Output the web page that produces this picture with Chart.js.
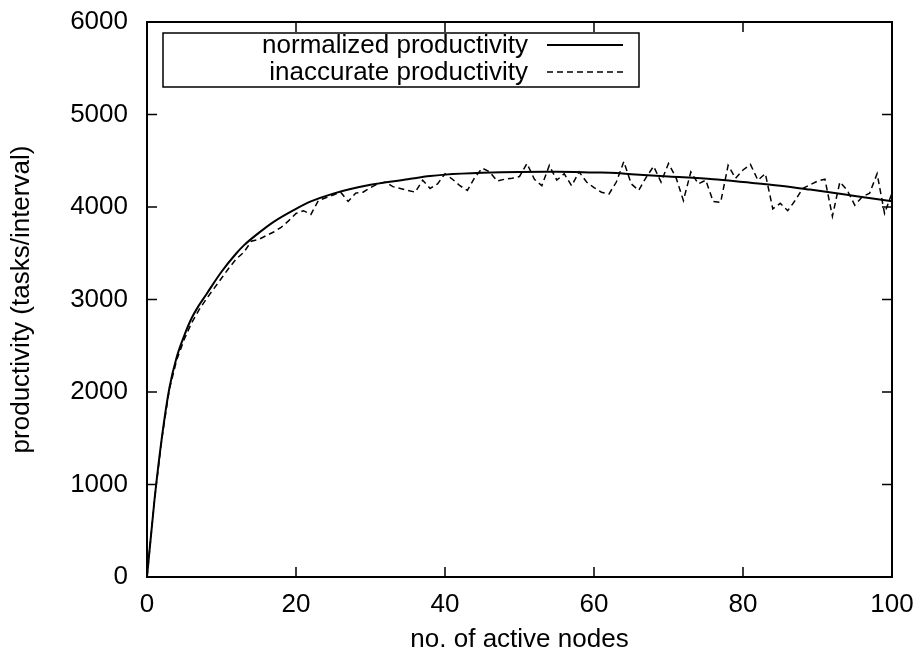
<!DOCTYPE html>
<html>
<head>
<meta charset="utf-8">
<script src="https://cdn.jsdelivr.net/npm/chart.js@4.4.1/dist/chart.umd.min.js"></script>
<style>
  html, body { margin: 0; padding: 0; background: #fff; }
  #wrap { width: 920px; height: 655px; }
</style>
</head>
<body>
<div id="wrap"><canvas id="productivityChart" width="920" height="655"></canvas></div>
<script>
// x positions (no. of active nodes) where the smooth curve was read
var curveNodes = [0, 1, 2, 3, 4, 5, 6, 7, 8, 10, 12, 13, 15, 17, 20, 22, 25, 30, 35, 38, 40, 45, 50, 55, 60, 63, 65, 70, 76, 80, 85, 89, 95, 100];
// normalized productivity at those nodes
var normalizedValues = [0, 830, 1510, 2040, 2380, 2610, 2800, 2940, 3060, 3300, 3500, 3585, 3720, 3840, 3980, 4060, 4145, 4240, 4300, 4335, 4350, 4370, 4379, 4380, 4373, 4368, 4355, 4330, 4300, 4270, 4230, 4188, 4120, 4062];

// inaccurate productivity, one value per node 0..100
var inaccurateValues = [
  0, 830, 1500, 2030, 2350, 2570, 2750, 2890, 3010, 3120,
  3230, 3340, 3440, 3510, 3630, 3650, 3690, 3730, 3780, 3850,
  3930, 3960, 3920, 4070, 4100, 4130, 4160, 4060, 4150, 4160,
  4210, 4250, 4270, 4220, 4200, 4180, 4160, 4290, 4200, 4250,
  4360, 4300, 4230, 4180, 4320, 4420, 4380, 4280, 4300, 4310,
  4330, 4470, 4300, 4230, 4450, 4290, 4360, 4230, 4380, 4270,
  4210, 4160, 4140, 4270, 4490, 4250, 4180, 4320, 4440, 4270,
  4470, 4320, 4070, 4380, 4250, 4290, 4060, 4050, 4450, 4310,
  4400, 4460, 4290, 4360, 3980, 4040, 3960, 4070, 4200, 4240,
  4280, 4300, 3900, 4270, 4180, 4020, 4110, 4150, 4360, 3930,
  4150
];

var xTicks = [0, 20, 40, 60, 80, 100];
var yTicks = [0, 1000, 2000, 3000, 4000, 5000, 6000];
var seriesNames = ['normalized productivity', 'inaccurate productivity'];

var fontFamily = '"Liberation Sans", Arial, sans-serif';
var fontSize = 26;

var normalizedPoints = curveNodes.map(function (n, i) { return { x: n, y: normalizedValues[i] }; });
var inaccuratePoints = inaccurateValues.map(function (v, i) { return { x: i, y: v }; });

// frame with inward ticks on all four sides, gnuplot style
var framePlugin = {
  id: 'frame',
  afterDraw: function (chart) {
    var ctx = chart.ctx, a = chart.chartArea;
    var xs = chart.scales.x, ys = chart.scales.y;
    ctx.save();
    ctx.strokeStyle = '#000';
    ctx.lineWidth = 1.5;
    ctx.beginPath();
    xTicks.forEach(function (t) {
      var px = xs.getPixelForValue(t);
      ctx.moveTo(px, a.bottom); ctx.lineTo(px, a.bottom - 10);
      ctx.moveTo(px, a.top); ctx.lineTo(px, a.top + 10);
    });
    yTicks.forEach(function (t) {
      var py = ys.getPixelForValue(t);
      ctx.moveTo(a.left, py); ctx.lineTo(a.left + 10, py);
      ctx.moveTo(a.right, py); ctx.lineTo(a.right - 10, py);
    });
    ctx.stroke();
    ctx.lineWidth = 2;
    ctx.strokeRect(a.left, a.top, a.right - a.left, a.bottom - a.top);

    // legend box
    var bx = 163, by = 33, bw = 476, bh = 54;
    ctx.fillStyle = '#fff';
    ctx.fillRect(bx, by, bw, bh);
    ctx.lineWidth = 1.5;
    ctx.strokeRect(bx, by, bw, bh);
    ctx.fillStyle = '#000';
    ctx.font = fontSize + 'px ' + fontFamily;
    ctx.textAlign = 'right';
    ctx.textBaseline = 'middle';
    var rows = [46, 73];
    chart.data.datasets.forEach(function (ds, i) {
      ctx.fillText(ds.label, 528, rows[i]);
      ctx.beginPath();
      ctx.lineWidth = ds.borderWidth;
      ctx.setLineDash(ds.borderDash || []);
      ctx.moveTo(547, rows[i] - 1);
      ctx.lineTo(623, rows[i] - 1);
      ctx.stroke();
      ctx.setLineDash([]);
    });
    ctx.restore();
  }
};

var ctx = document.getElementById('productivityChart').getContext('2d');

var productivityChart = new Chart(ctx, {
  type: 'line',
  data: {
    datasets: [{
      label: seriesNames[0],
      data: normalizedPoints,
      borderColor: '#000',
      borderWidth: 2,
      pointRadius: 0,
      cubicInterpolationMode: 'monotone',
      fill: false
    }, {
      label: seriesNames[1],
      data: inaccuratePoints,
      borderColor: '#000',
      borderWidth: 1.5,
      borderDash: [6, 4],
      pointRadius: 0,
      tension: 0,
      fill: false
    }]
  },
  options: {
    responsive: false,
    animation: false,
    devicePixelRatio: 1,
    layout: { padding: { left: 0, top: 22, right: 28, bottom: 0 } },
    plugins: {
      legend: { display: false },
      tooltip: { enabled: false }
    },
    scales: {
      x: {
        type: 'linear',
        min: 0,
        max: 100,
        afterBuildTicks: function (s) { s.ticks = xTicks.map(function (v) { return { value: v }; }); },
        afterFit: function (s) { s.height = 78; s.paddingLeft = 0; s.paddingRight = 0; },
        grid: { display: false, drawTicks: false },
        border: { display: false },
        ticks: { color: '#000', padding: 12, maxRotation: 0, callback: function (v) { return String(v); }, font: { family: fontFamily, size: fontSize } },
        title: { display: true, text: 'no. of active nodes', color: '#000', padding: { top: 0, bottom: 0 }, font: { family: fontFamily, size: fontSize } }
      },
      y: {
        min: 0,
        max: 6000,
        afterBuildTicks: function (s) { s.ticks = yTicks.map(function (v) { return { value: v }; }); },
        afterFit: function (s) { s.width = 147; s.paddingTop = 0; s.paddingBottom = 0; },
        grid: { display: false, drawTicks: false },
        border: { display: false },
        ticks: { color: '#000', padding: 19, callback: function (v) { return String(v); }, font: { family: fontFamily, size: fontSize } },
        title: { display: true, text: 'productivity (tasks/interval)', color: '#000', padding: { top: 6, bottom: 0 }, font: { family: fontFamily, size: fontSize } }
      }
    }
  },
  plugins: [framePlugin]
});
</script>
</body>
</html>
